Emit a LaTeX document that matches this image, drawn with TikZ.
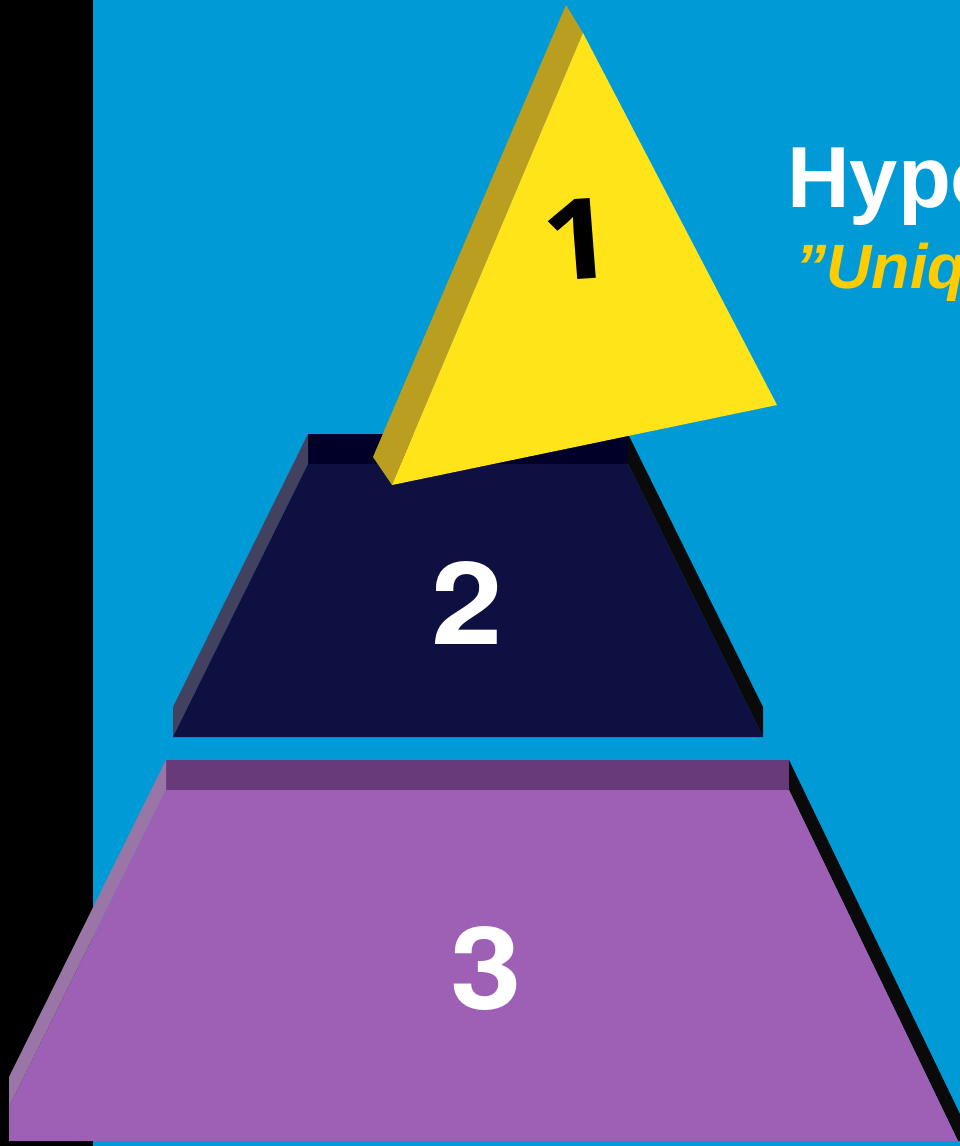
\documentclass[tikz,border=0pt]{standalone}
\usepackage{fontspec}
\setmainfont{Liberation Sans}
\newfontfamily\numberfont{TeX Gyre Heros}
\newfontfamily\apexfont{Open Sans}
\definecolor{skyblue}{RGB}{0,155,215}
\definecolor{navyface}{RGB}{13,16,64}
\definecolor{navytop}{RGB}{0,0,40}
\definecolor{navybevel}{RGB}{66,66,96}
\definecolor{plumface}{RGB}{158,96,180}
\definecolor{plumtop}{RGB}{105,58,122}
\definecolor{plumbevel}{RGB}{153,118,165}
\definecolor{goldface}{RGB}{255,228,26}
\definecolor{goldside}{RGB}{185,158,32}
\definecolor{sidedark}{RGB}{10,10,10}
\definecolor{quoteyellow}{RGB}{255,204,0}
\tikzset{
  digit/.style={inner sep=0pt, xscale=1.12, font=\numberfont\fontsize{86}{86}\selectfont\bfseries},
  apexdigit/.style={inner sep=0pt, xscale=1.1, font=\apexfont\fontsize{84}{84}\selectfont\bfseries},
  heading/.style={inner sep=0pt, anchor=base west, text=white, font=\fontsize{65}{65}\selectfont\bfseries},
  subheading/.style={inner sep=0pt, anchor=base west, text=quoteyellow, font=\fontsize{47}{47}\selectfont\bfseries\itshape}
}
\begin{document}
\begin{tikzpicture}[x=0.75pt,y=-0.75pt]
  \useasboundingbox (0,0) rectangle (960,1146);
  \clip (0,0) rectangle (960,1146);
  % backdrop and dark margin
  \fill[skyblue] (0,0) rectangle (960,1146);
  \fill[black] (0,0) rectangle (93,1146);

  % level 3: base slab
  \fill[plumtop] (166,760) -- (789,760) -- (789,790) -- (166,790) -- cycle;
  \fill[plumbevel] (166,760) -- (9,1077) -- (9,1107) -- (166,790) -- cycle;
  \fill[sidedark] (789,760) -- (973,1141) -- (958,1141) -- (789,790) -- cycle;
  \fill[plumface] (166,790) -- (789,790) -- (958,1141) -- (9,1141) -- (9,1107) -- cycle;

  % level 2: middle slab
  \fill[navytop] (308,434) -- (628,434) -- (628,464) -- (308,464) -- cycle;
  \fill[navybevel] (308,434) -- (173,707) -- (173,737) -- (308,464) -- cycle;
  \fill[sidedark] (628,434) -- (763,707) -- (763,737) -- (628,464) -- cycle;
  \fill[navyface] (308,464) -- (628,464) -- (763,737) -- (173,737) -- cycle;

  % level 1: tilted apex
  \fill[goldside] (566,5) -- (583,33) -- (392,485) -- (373,457) -- cycle;
  \fill[goldface] (583,33) -- (777,405) -- (392,485) -- cycle;

  % level labels
  \node[apexdigit, text=black, rotate=4] (one) at (578,239) {1};
  \node[digit, text=white] (two) at (467,603) {2};
  \node[digit, text=white] (three) at (486,968) {3};

  % title block
  \node[heading] (title) at (787,207) {Hypo};
  \node[subheading] (quote) at (795,288) {”Uniq};
\end{tikzpicture}
\end{document}
